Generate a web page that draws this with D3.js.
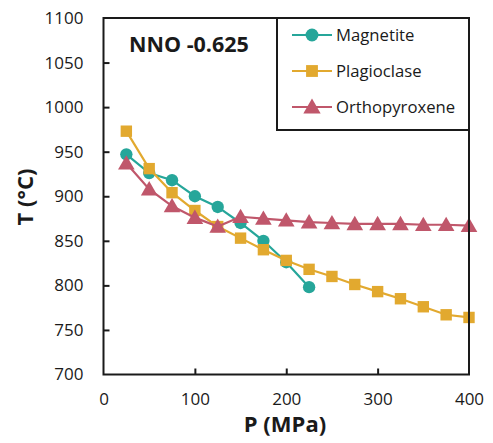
<!DOCTYPE html>
<html><head><meta charset="utf-8">
<script src="https://cdn.jsdelivr.net/npm/d3@7"></script>
<style>body{margin:0;background:#fff}svg{display:block}text{font-family:"Open Sans",sans-serif;fill:#1a1a1a}</style>
</head><body><svg id="c" width="493" height="443"></svg>
<script>
const pressures = [25,50,75,100,125,150,175,200,225,250,275,300,325,350,375,400];
const magnetite = [947,926,918,900,888,870,850,826,798];
const plagioclase = [973,931,904,884,866,853,840,828,818,810,801,793,785,776,767,764];
const orthopyroxene = [937,908,889,876,866,877,875,873,871,870,869,869,869,868,868,867];
const xTicks = [0,100,200,300,400];
const yTicks = [700,750,800,850,900,950,1000,1050,1100];
const seriesNames = ["Magnetite","Plagioclase","Orthopyroxene"];
const seriesColors = ["#26a69a","#e2a92f","#c0576b"];
const seriesSymbols = [d3.symbolCircle, d3.symbolSquare, d3.symbolTriangle];
const title = "NNO -0.625";

const svg = d3.select("#c");
const L=103.5,R=469,T=18,B=374.5;
const x = d3.scaleLinear().domain([0,400]).range([L,R]);
const y = d3.scaleLinear().domain([700,1100]).range([B,T]);

const series = [magnetite, plagioclase, orthopyroxene].map((vals,i)=>({
  name: seriesNames[i], color: seriesColors[i], symbol: seriesSymbols[i],
  pts: vals.map((v,j)=>[pressures[j], v])
}));
const symSize = [120, 130, 120];

const line = d3.line().x(d=>x(d[0])).y(d=>y(d[1]));
series.forEach((s,i)=>{
  const g = svg.append("g");
  g.append("path").attr("d", line(s.pts)).attr("fill","none").attr("stroke",s.color).attr("stroke-width",2.2);
  g.selectAll("path.m").data(s.pts).join("path").attr("class","m")
    .attr("transform", d=>`translate(${x(d[0])},${y(d[1]) + (i===2?1.5:0)})`)
    .attr("d", d3.symbol().type(s.symbol).size(symSize[i])).attr("fill", s.color);
});

const yAx = svg.append("g").attr("transform",`translate(${L},0)`)
  .call(d3.axisLeft(y).tickValues(yTicks).tickSize(-6).tickPadding(20).tickFormat(d3.format("d")));
const xAx = svg.append("g").attr("transform",`translate(0,${B})`)
  .call(d3.axisBottom(x).tickValues(xTicks).tickSize(-6).tickPadding(20).tickFormat(d3.format("d")));
[yAx,xAx].forEach(a=>{
  a.select(".domain").remove();
  a.selectAll("line").attr("stroke","#1a1a1a").attr("stroke-width",2);
  a.selectAll("text").attr("font-size",17).attr("fill","#1a1a1a").style("font-family","Open Sans");
});
xAx.selectAll(".tick").filter(d=>d===0||d===400).select("line").remove();
yAx.selectAll(".tick").filter(d=>d===700||d===1100).select("line").remove();
xAx.selectAll("text").attr("dy","0.71em").attr("y",18);
yAx.selectAll("text").attr("x",-20);

svg.append("rect").attr("x",L).attr("y",T).attr("width",R-L).attr("height",B-T)
  .attr("fill","none").attr("stroke","#1a1a1a").attr("stroke-width",2);

svg.append("text").attr("x",129).attr("y",52).attr("font-size",21.5).attr("font-weight","bold").text(title);

svg.append("text").attr("x",285).attr("y",432).attr("text-anchor","middle").attr("font-size",22).attr("font-weight","bold").text("P (MPa)");
svg.append("text").attr("transform","translate(33,197) rotate(-90)").attr("text-anchor","middle").attr("font-size",22).attr("font-weight","bold").text("T (°C)");

const lg = svg.append("g");
lg.append("rect").attr("x",277).attr("y",T).attr("width",R-277).attr("height",130-T).attr("fill","#fff").attr("stroke","#1a1a1a").attr("stroke-width",2);
const rows = [35,71,107];
series.forEach((s,i)=>{
  const ry = rows[i];
  lg.append("line").attr("x1",292).attr("x2",332).attr("y1",ry).attr("y2",ry).attr("stroke",s.color).attr("stroke-width",2.2);
  lg.append("path").attr("transform",`translate(312,${ry + (i===2?1.5:0)})`).attr("d",d3.symbol().type(s.symbol).size(symSize[i]+10)).attr("fill",s.color);
  lg.append("text").attr("x",336).attr("y",ry).attr("dy","0.36em").attr("font-size",16.7).text(s.name);
});
</script></body></html>
